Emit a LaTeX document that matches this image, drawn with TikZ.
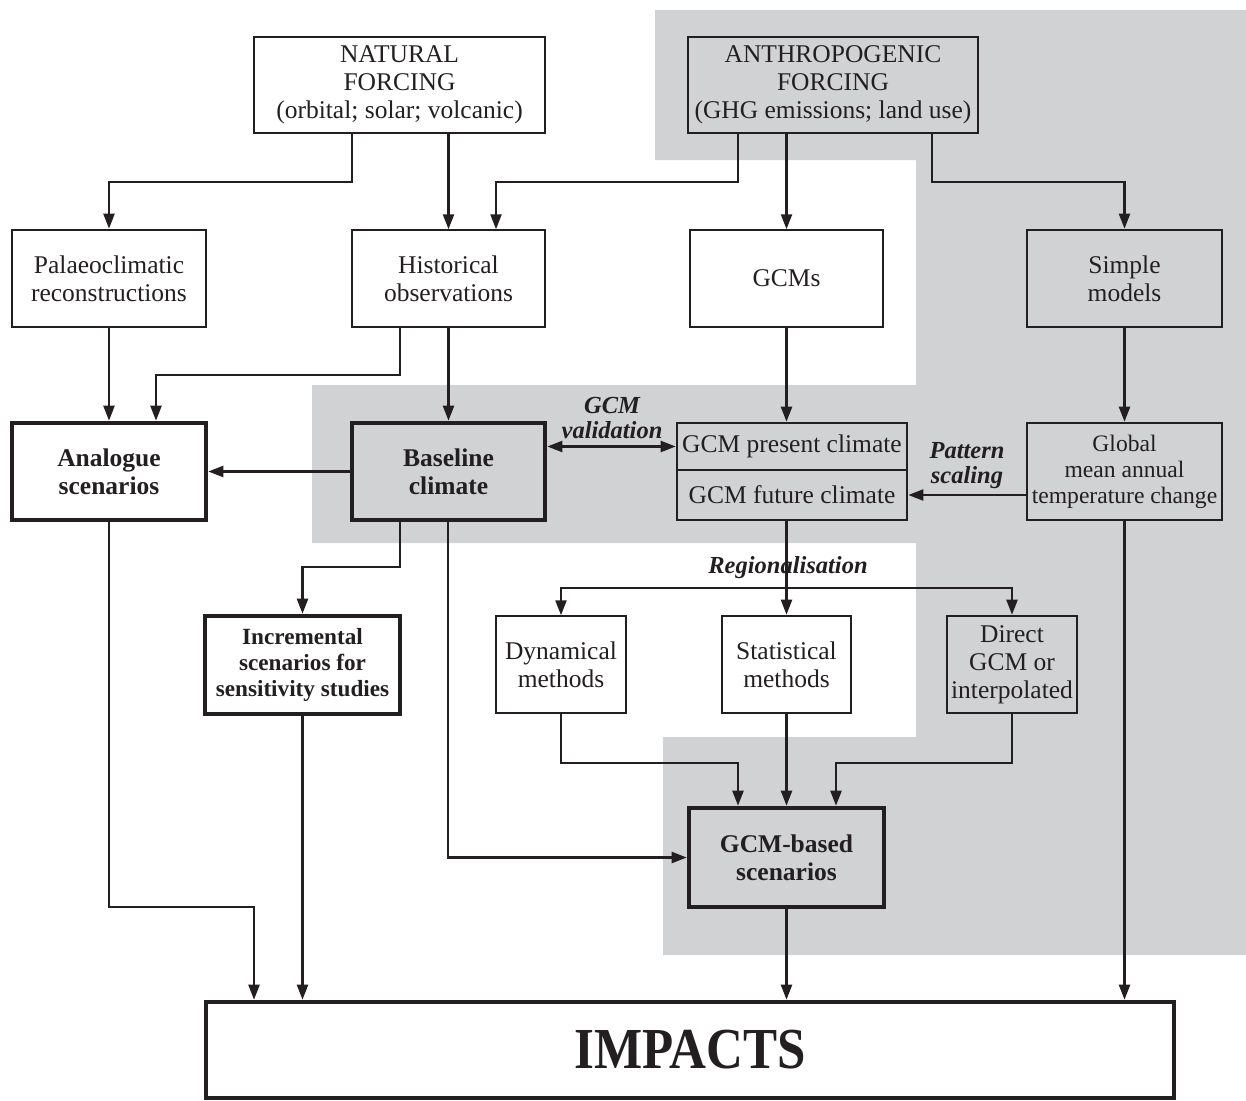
\documentclass[tikz,border=0pt]{standalone}
\usepackage{fontspec}
\setmainfont{Liberation Serif}
\usetikzlibrary{arrows.meta}
\definecolor{bggrey}{RGB}{209,210,212}
\definecolor{ink}{RGB}{35,31,32}
\begin{document}
\begin{tikzpicture}[x=1pt,y=-1pt,
  box/.style={draw=ink,align=center,inner sep=0pt,text=ink,font=\fontsize{25.5}{28}\selectfont},
  thinb/.style={line width=1.5pt},
  medb/.style={line width=2.6pt},
  thickb/.style={line width=4.6pt},
  boldt/.style={font=\fontsize{25.5}{28}\selectfont\bfseries},
  lab/.style={text=ink,align=center,inner sep=0pt,font=\fontsize{24.5}{25}\selectfont\bfseries\itshape},
  arr/.style={draw=ink,line width=2.3pt,-{Triangle[length=15pt,width=11pt]}},
  arrb/.style={draw=ink,line width=2.3pt,{Triangle[length=15pt,width=11pt]}-{Triangle[length=15pt,width=11pt]}}]
\useasboundingbox (0,0) rectangle (1246,1100);
% grey background region
\fill[bggrey] (655,10) -- (1246,10) -- (1246,955) -- (663,955) -- (663,737) -- (916,737)
  -- (916,543) -- (312,543) -- (312,385) -- (916,385) -- (916,160) -- (655,160) -- cycle;
% nodes
\node[box,thinb,fill=white,minimum width=291pt,minimum height=96pt] (nat) at (399.5,85) {NATURAL\\FORCING\\(orbital; solar; volcanic)};
\node[box,thinb,fill=bggrey,minimum width=290pt,minimum height=96pt] (anth) at (833,85) {ANTHROPOGENIC\\FORCING\\(GHG emissions; land use)};
\node[box,medb,fill=white,minimum width=194pt,minimum height=97pt] (pal) at (109,278.5) {Palaeoclimatic\\reconstructions};
\node[box,thinb,fill=white,minimum width=193pt,minimum height=97pt] (hist) at (448.5,278.5) {Historical\\observations};
\node[box,thinb,fill=white,minimum width=193pt,minimum height=97pt] (gcms) at (786.5,278.5) {GCMs};
\node[box,medb,fill=bggrey,minimum width=195pt,minimum height=97pt] (simp) at (1124.5,278.5) {Simple\\models};
\node[box,thickb,boldt,fill=white,minimum width=194pt,minimum height=97pt] (ana) at (109,471.5) {Analogue\\scenarios};
\node[box,thickb,boldt,fill=bggrey,minimum width=193pt,minimum height=97pt] (base) at (448.5,471.5) {Baseline\\climate};
\node[box,medb,fill=bggrey,minimum width=230pt,minimum height=47pt] (pres) at (792,446.5) {GCM present climate};
\node[box,medb,fill=bggrey,minimum width=230pt,minimum height=50pt] (fut) at (792,495) {GCM future climate};
\node[box,medb,fill=bggrey,minimum width=195pt,minimum height=97pt,font=\fontsize{23.6}{26}\selectfont] (glob) at (1124.5,471.5) {Global\\mean annual\\temperature change};
\node[box,thickb,fill=white,minimum width=195pt,minimum height=98pt,font=\fontsize{23.2}{26}\selectfont\bfseries] (inc) at (302.5,665) {Incremental\\scenarios for\\sensitivity studies};
\node[box,thinb,fill=white,minimum width=130pt,minimum height=97pt] (dyn) at (561,664.5) {Dynamical\\methods};
\node[box,medb,fill=white,minimum width=129pt,minimum height=97pt] (stat) at (786.5,664.5) {Statistical\\methods};
\node[box,medb,fill=bggrey,minimum width=130pt,minimum height=97pt] (dir) at (1012,664.5) {Direct\\GCM or\\interpolated};
\node[box,thickb,boldt,fill=bggrey,minimum width=195pt,minimum height=99pt] (gcmb) at (786.5,857.5) {GCM-based\\scenarios};
\node[box,thickb,fill=white,minimum width=968pt,minimum height=96pt,font=\fontsize{58}{60}\selectfont\bfseries] (imp) at (690,1050) {\scalebox{0.88}[1]{IMPACTS}};
% labels
\node[lab] (lval) at (612,418) {GCM\\validation};
\node[lab] (lpat) at (967,466) {Pattern\\scaling};
\node[lab] (lreg) at (788,568) {Regionalisation};
% connectors
\draw[arr] (352,0 |- nat.south) -- (352,182) -| (pal.north);
\draw[arr] (hist.north |- nat.south) -- (hist.north);
\draw[arr] (738,0 |- anth.south) -- (738,182) -| (496,0 |- hist.north);
\draw[arr] (gcms.north |- anth.south) -- (gcms.north);
\draw[arr] (932,0 |- anth.south) -- (932,182) -| (simp.north);
\draw[arr] (pal.south) -- (ana.north);
\draw[arr] (400,0 |- hist.south) -- (400,375) -| (156,0 |- ana.north);
\draw[arr] (hist.south) -- (base.north);
\draw[arr] (gcms.south) -- (gcms.south |- pres.north);
\draw[arr] (simp.south) -- (glob.north);
\draw[arr] (base.west) -- (ana.east);
\draw[arrb] (base.east |- pres.west) -- (pres.west);
\draw[arr] (glob.west |- fut.east) -- (fut.east);
\draw[arr] (gcms.south |- fut.south) -- (stat.north);
\draw[arr] (stat.north |- 0,588) -| (dyn.north);
\draw[arr] (stat.north |- 0,588) -| (dir.north);
\draw[arr] (400,0 |- base.south) -- (400,567) -| (inc.north);
\draw[arr] (448,0 |- base.south) |- (gcmb.west);
\draw[arr] (dyn.south) -- (dyn.south |- 0,763) -| (738,0 |- gcmb.north);
\draw[arr] (stat.south) -- (gcmb.north);
\draw[arr] (dir.south) -- (dir.south |- 0,763) -| (836,0 |- gcmb.north);
\draw[arr] (ana.south) -- (ana.south |- 0,907) -| (254,0 |- imp.north);
\draw[arr] (inc.south) -- (inc.south |- imp.north);
\draw[arr] (gcmb.south) -- (gcmb.south |- imp.north);
\draw[arr] (glob.south) -- (glob.south |- imp.north);
\end{tikzpicture}
\end{document}
